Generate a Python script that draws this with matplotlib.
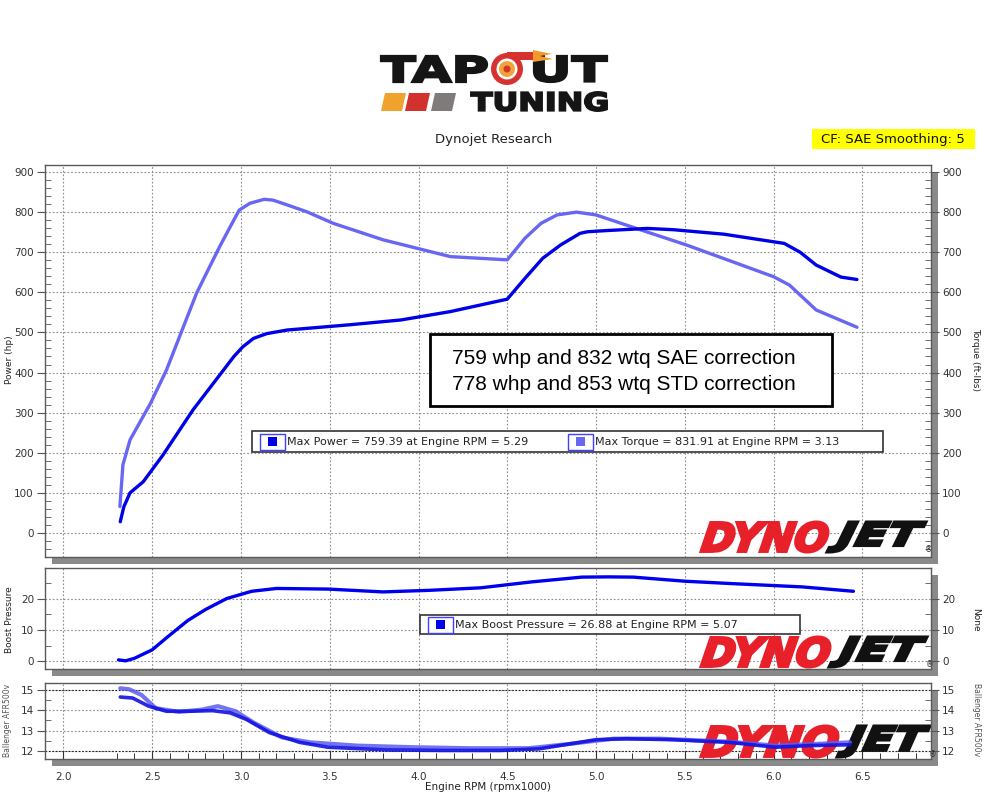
import matplotlib
matplotlib.use("Agg")
import matplotlib.pyplot as plt
import matplotlib.transforms as mtransforms
from matplotlib.textpath import TextPath
from matplotlib.font_manager import FontProperties
from matplotlib.patches import PathPatch, Rectangle, Polygon, Circle
from matplotlib.ticker import MultipleLocator, FixedLocator

# ---------------- data ----------------
power_rpm = [2.32, 2.34, 2.375, 2.45, 2.56, 2.73, 2.96, 3.01, 3.07, 3.145, 3.26, 3.61, 3.90,
             4.18, 4.50, 4.60, 4.70, 4.80, 4.91, 4.95, 5.06, 5.29, 5.44, 5.72, 6.06, 6.15,
             6.24, 6.38, 6.47]
power_hp = [28, 65, 100, 128, 194, 307, 440, 464, 485, 497, 506, 519, 531,
            552, 583, 635, 685, 718, 747, 751, 754, 759.39, 756, 745, 722, 700,
            668, 638, 632]

torque_rpm = [2.318, 2.335, 2.375, 2.49, 2.58, 2.75, 2.88, 2.94, 2.99, 3.05, 3.13, 3.18, 3.26,
              3.37, 3.52, 3.80, 4.18, 4.50, 4.60, 4.69, 4.78, 4.89, 5.00, 5.25, 5.51, 6.00,
              6.09, 6.24, 6.47]
torque_ftlb = [66, 170, 232, 323, 406, 598, 714, 764, 805, 822, 831.91, 830, 818,
               801, 772, 731, 689, 681, 735, 772, 793, 800, 793, 756, 718, 639,
               618, 556, 513]

boost_rpm = [2.31, 2.35, 2.40, 2.50, 2.58, 2.70, 2.80, 2.92, 3.06, 3.20, 3.49, 3.80, 4.06,
             4.35, 4.64, 4.92, 5.07, 5.21, 5.50, 5.78, 6.16, 6.45]
boost_psi = [0.5, 0.2, 1.0, 3.7, 7.5, 13.0, 16.5, 20.0, 22.3, 23.2, 23.0, 22.1, 22.6,
             23.4, 25.3, 26.8, 26.88, 26.8, 25.5, 24.7, 23.7, 22.3]

afr_a_rpm = [2.32, 2.39, 2.48, 2.58, 2.71, 2.84, 2.94, 3.03, 3.16, 3.33, 3.49, 3.81, 4.13,
             4.46, 4.68, 4.85, 5.00, 5.17, 5.43, 5.75, 6.01, 6.20, 6.43]
afr_a = [14.65, 14.6, 14.2, 13.95, 13.95, 13.98, 13.87, 13.55, 12.9, 12.42, 12.18, 12.05, 12.02,
         12.02, 12.1, 12.34, 12.55, 12.6, 12.55, 12.42, 12.18, 12.26, 12.3]

afr_b_rpm = [2.32, 2.37, 2.44, 2.52, 2.65, 2.78, 2.87, 2.97, 3.07, 3.23, 3.39, 3.65, 3.97,
             4.30, 4.62, 4.85, 5.10, 5.36, 5.75, 6.01, 6.24, 6.43]
afr_b = [15.08, 15.03, 14.75, 14.1, 13.92, 14.03, 14.2, 13.95, 13.4, 12.66, 12.42, 12.26, 12.18,
         12.13, 12.13, 12.34, 12.6, 12.6, 12.45, 12.26, 12.34, 12.42]

rpm_ticks = [2.0, 2.5, 3.0, 3.5, 4.0, 4.5, 5.0, 5.5, 6.0, 6.5]
rpm_labels = ["2.0", "2.5", "3.0", "3.5", "4.0", "4.5", "5.0", "5.5", "6.0", "6.5"]

max_power, max_power_rpm = 759.39, 5.29
max_torque, max_torque_rpm = 831.91, 3.13
max_boost, max_boost_rpm = 26.88, 5.07

note_lines = ["759 whp and 832 wtq SAE correction",
              "778 whp and 853 wtq STD correction"]

# ---------------- styling ----------------
C_POWER = "#0000E8"
C_TORQUE = "#6767F4"
C_BOOST = "#0000F0"
C_AFR_A = "#1212E2"
C_AFR_B = "#5C5CF2"
GRID = "#8c8c8c"
TXT = "#333333"

W, H = 987, 800
fig = plt.figure(figsize=(W / 100, H / 100), dpi=100)
fig.patch.set_facecolor("white")
# pixel coordinates, origin at top-left
PIX = mtransforms.Affine2D().scale(1 / W, -1 / H).translate(0, 1) + fig.transFigure


def fitted_text(s, box, color, prop, skew=0.0, stroke=0.0):
    """Text outline scaled to fill a pixel box (x0, y0, x1, y1)."""
    x0, y0, x1, y1 = box
    path = TextPath((0, 0), s, size=100, prop=prop)
    if skew:
        path = path.transformed(mtransforms.Affine2D().skew_deg(skew, 0))
    ext = path.get_extents()
    sx = (x1 - x0) / ext.width
    sy = (y1 - y0) / ext.height
    tr = (mtransforms.Affine2D().translate(-ext.x0, -ext.y0)
          .scale(sx, -sy).translate(x0, y1))
    return PathPatch(path.transformed(tr), transform=PIX, fc=color,
                     ec=color if stroke else "none", lw=stroke, joinstyle="miter")


def px_axes(x0, y0, x1, y1):
    # drop shadow behind the panel
    fig.add_artist(Rectangle((x0 + 7, y0 + 7), x1 - x0, y1 - y0, transform=PIX,
                             fc="#8a8a8a", ec="none", zorder=-5))
    return fig.add_axes([x0 / W, 1 - y1 / H, (x1 - x0) / W, (y1 - y0) / H])


def style_axes(ax, ylim, major, minor, xlabels=False):
    ax.set_xlim(1.896, 6.887)
    ax.set_ylim(*ylim)
    ax.set_axisbelow(True)
    ax.xaxis.set_major_locator(FixedLocator(rpm_ticks))
    ax.yaxis.set_major_locator(MultipleLocator(major))
    ax.yaxis.set_minor_locator(MultipleLocator(minor))
    ax.grid(True, which="major", linestyle=(0, (1.5, 1.8)), color=GRID, linewidth=0.8)
    ax.tick_params(axis="y", which="major", left=True, right=True, labelleft=True,
                   labelright=True, direction="out", length=6, width=0.8, pad=2,
                   labelsize=7.5, labelcolor=TXT, color="#555555")
    ax.tick_params(axis="y", which="minor", left=True, right=True, direction="in",
                   length=4, width=0.6, color="#555555")
    if xlabels:
        ax.set_xticks(rpm_ticks)
        ax.set_xticklabels(rpm_labels)
        ax.xaxis.set_minor_locator(FixedLocator(
            [round(2.3 + 0.1 * i, 1) for i in range(46) if round((2.3 + 0.1 * i) * 10) % 5]))
        ax.tick_params(axis="x", which="major", direction="in", length=6, width=0.8,
                       pad=9, labelsize=7.5, labelcolor=TXT, color="#333333", top=False)
        ax.tick_params(axis="x", which="minor", direction="in", length=4, width=0.7,
                       color="#333333", top=False)
    else:
        ax.tick_params(axis="x", which="both", bottom=False, top=False, labelbottom=False)
    for sp in ax.spines.values():
        sp.set_color("#5a5a5a")
        sp.set_linewidth(1.0)


def dynojet(ax, y0, y1, x_split, x_end):
    bold_it = FontProperties(family="DejaVu Sans", weight="bold", style="italic")
    d = fitted_text("DYNO", (701, y0 + 1, x_split + 2, y1 - 1), "#E8202A", bold_it,
                    skew=8, stroke=2.2)
    j = fitted_text("JET", (x_split + 1, y0 + 1, x_end, y1 - 1), "#111111", bold_it,
                    skew=8, stroke=2.2)
    for p in (d, j):
        p.set_zorder(1)
        ax.add_patch(p)
    ax.text(x_end + 3, y1 - 3, "®", transform=PIX, fontsize=5.5, ha="center",
            va="center", color="#222222", zorder=1)


def legend_item(ax, x, y, color, label):
    ax.add_patch(Rectangle((x, y - 8), 25, 16, transform=PIX, fc="white",
                           ec="#4040ff", lw=1.0, zorder=6))
    ax.add_patch(Rectangle((x + 8, y - 4.5), 9, 9, transform=PIX, fc=color,
                           ec="none", zorder=7))
    ax.text(x + 27, y + 0.5, label, transform=PIX, fontsize=8, va="center", ha="left",
            color="#222222", family="DejaVu Sans", zorder=7)


# ---------------- header ----------------
bold = FontProperties(family="DejaVu Sans", weight="bold")
fig.add_artist(fitted_text("TAP", (381, 56, 487, 82), "#151515", bold, stroke=1.6))
fig.add_artist(fitted_text("UT", (534, 56, 607, 82), "#151515", bold, stroke=1.6))
fig.add_artist(fitted_text("TUNING", (471, 92, 607, 111), "#151515", bold, stroke=1.4))
# turbo "O"
fig.add_artist(Rectangle((507, 52), 27, 8, transform=PIX, fc="#D7322F", ec="none"))
fig.add_artist(Polygon([(533, 50), (552, 54), (540, 56), (553, 59), (533, 62)],
                       closed=True, transform=PIX, fc="#F39A2B", ec="none"))
fig.add_artist(Circle((507, 69), 16, transform=PIX, fc="#D7322F", ec="none"))
fig.add_artist(Circle((507, 69), 10.5, transform=PIX, fc="white", ec="none"))
fig.add_artist(Circle((507, 69), 8, transform=PIX, fc="#F2A33A", ec="none"))
fig.add_artist(Circle((507, 69), 3.5, transform=PIX, fc="#D7322F", ec="none"))
# colour bars
for (xl, col) in [(381, "#F0A22E"), (405, "#D2322D"), (431, "#7F7B7B")]:
    fig.add_artist(Polygon([(xl + 4, 93), (xl + 25, 93), (xl + 21, 111), (xl, 111)],
                           closed=True, transform=PIX, fc=col, ec="none"))

fig.text(494, 139, "Dynojet Research", transform=PIX, ha="center", va="center",
         fontsize=9.5, color="#222222")
fig.add_artist(Rectangle((812, 129), 163, 20, transform=PIX, fc="#FFFF00", ec="none"))
fig.text(893, 139.5, "CF: SAE Smoothing: 5", transform=PIX, ha="center", va="center",
         fontsize=9.5, color="#111111")

# ---------------- power / torque ----------------
ax1 = px_axes(45, 165, 931, 557)
style_axes(ax1, (-60, 917.5), 100, 20)
dynojet(ax1, 521, 553, 826, 926)
ax1.plot(torque_rpm, torque_ftlb, color=C_TORQUE, lw=2.4, solid_capstyle="round",
         solid_joinstyle="round", zorder=3)
ax1.plot(power_rpm, power_hp, color=C_POWER, lw=2.4, solid_capstyle="round",
         solid_joinstyle="round", zorder=4)

ax1.add_patch(Rectangle((430, 334), 402, 72, transform=PIX, fc="white", ec="black",
                        lw=2.0, zorder=5))
for i, line in enumerate(note_lines):
    ax1.text(624, 358 + 26 * i, line, transform=PIX, ha="center", va="center",
             fontsize=15, family="Liberation Sans", color="black", zorder=6)

ax1.add_patch(Rectangle((252, 431), 631, 21, transform=PIX, fc="white", ec="#333333",
                        lw=1.2, zorder=5))
legend_item(ax1, 260, 441.5, C_POWER,
            f"Max Power = {max_power:.2f} at Engine RPM = {max_power_rpm:.2f}")
legend_item(ax1, 568, 441.5, C_TORQUE,
            f"Max Torque = {max_torque:.2f} at Engine RPM = {max_torque_rpm:.2f}")

fig.text(10, 360, "Power (hp)", transform=PIX, rotation=90, ha="center", va="center",
         fontsize=6.5, color="#222222")
fig.text(976, 360, "Torque (ft-lbs)", transform=PIX, rotation=270, ha="center",
         va="center", fontsize=6.5, color="#222222")

# ---------------- boost ----------------
ax2 = px_axes(45, 568, 931, 669)
style_axes(ax2, (-2.4, 29.7), 10, 5)
dynojet(ax2, 636, 668, 828, 927)
ax2.plot(boost_rpm, boost_psi, color=C_BOOST, lw=2.4, solid_capstyle="round",
         solid_joinstyle="round", zorder=4)
ax2.add_patch(Rectangle((420, 615), 380, 19, transform=PIX, fc="white", ec="#333333",
                        lw=1.2, zorder=5))
legend_item(ax2, 428, 624.5, C_BOOST,
            f"Max Boost Pressure = {max_boost:.2f} at Engine RPM = {max_boost_rpm:.2f}")
fig.text(10, 620, "Boost Pressure", transform=PIX, rotation=90, ha="center",
         va="center", fontsize=6.5, color="#222222")
fig.text(976, 620, "None", transform=PIX, rotation=270, ha="center", va="center",
         fontsize=6.5, color="#222222")

# ---------------- air/fuel ratio ----------------
ax3 = px_axes(45, 683, 931, 759)
style_axes(ax3, (11.6, 15.34), 1, 0.5, xlabels=True)
for yv in (15, 12):
    ax3.axhline(yv, color="#222222", lw=0.8, linestyle=(0, (1.5, 1.5)), zorder=0.6)
dynojet(ax3, 725, 758, 836, 930)
ax3.plot(afr_b_rpm, afr_b, color=C_AFR_B, lw=3.0, alpha=0.85, solid_capstyle="round",
         solid_joinstyle="round", zorder=3)
ax3.plot(afr_a_rpm, afr_a, color=C_AFR_A, lw=2.6, alpha=0.9, solid_capstyle="round",
         solid_joinstyle="round", zorder=4)
fig.text(8, 720, "Ballenger AFR500v", transform=PIX, rotation=90, ha="center",
         va="center", fontsize=5.5, color="#555555")
fig.text(976, 720, "Ballenger AFR500v", transform=PIX, rotation=270, ha="center",
         va="center", fontsize=5.5, color="#555555")

fig.text(488, 787, "Engine RPM (rpmx1000)", transform=PIX, ha="center", va="center",
         fontsize=7.5, color="#222222")

fig.savefig("out.png", dpi=100, facecolor="white")
